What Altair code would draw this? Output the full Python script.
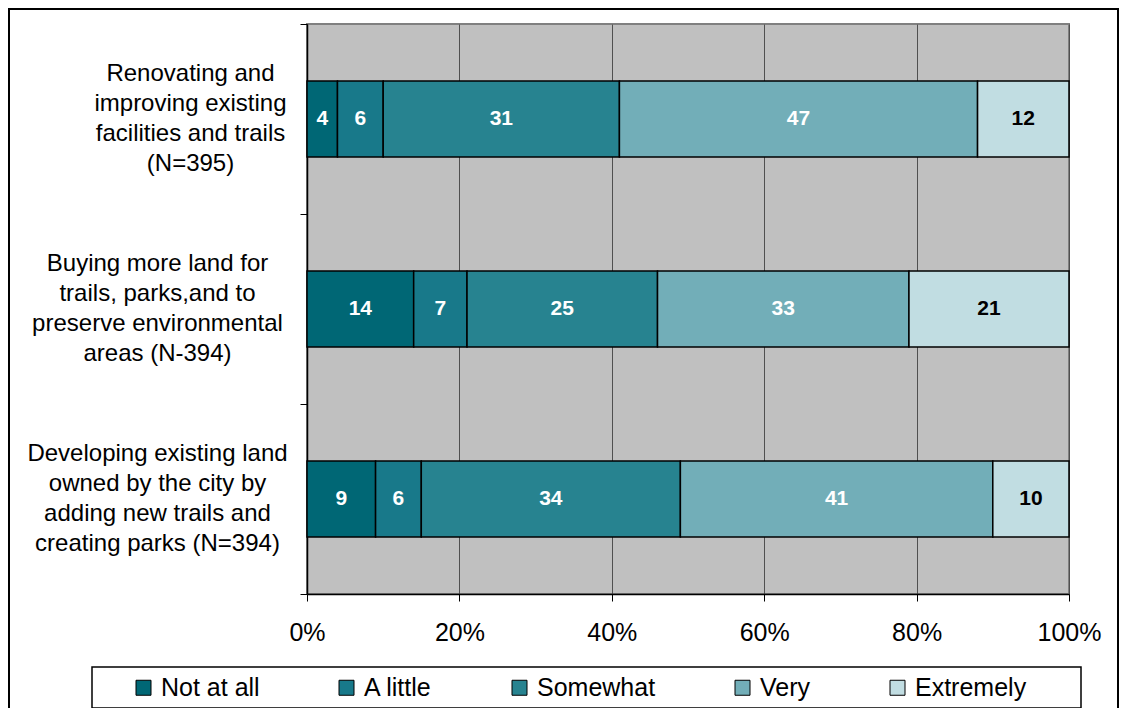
import altair as alt
import pandas as pd

categories = [
    "Renovating and|improving existing|facilities and trails|(N=395)",
    "Buying more land for|trails, parks,and to|preserve environmental|areas (N-394)",
    "Developing existing land|owned by the city by|adding new trails and|creating parks (N=394)",
]
levels = ["Not at all", "A little", "Somewhat", "Very", "Extremely"]
colors = ["#006775", "#18798a", "#278390", "#72aeb8", "#c1dde2"]

renovating = [4, 6, 31, 47, 12]
buying = [14, 7, 25, 33, 21]
developing = [9, 6, 34, 41, 10]
series = [renovating, buying, developing]

rows = []
for cat, vals in zip(categories, series):
    acc = 0
    for lvl, v in zip(levels, vals):
        rows.append({"item": cat, "level": lvl, "value": v,
                     "start": acc, "end": acc + v, "mid": acc + v / 2})
        acc += v
df = pd.DataFrame(rows)

FONT = "Liberation Sans"

x_scale = alt.Scale(domain=[0, 100], nice=False)
y_enc = alt.Y(
    "item:N", sort=categories, title=None,
    scale=alt.Scale(paddingInner=0, paddingOuter=0),
    axis=alt.Axis(
        labelExpr="split(datum.label, '|')",
        labelAlign="center", labelBaseline="middle",
        labelFont=FONT, labelFontSize=24, labelLineHeight=30, labelColor="black",
        labelPadding={"condition": {"test": "datum.value === '" + categories[0] + "'", "value": 110}, "value": 143},
        labelOffset=-46,
        labelLimit=400,
        tickBand="extent", tickSize=7, tickColor="black", tickWidth=1,
        domainColor="black", domainWidth=1.5, grid=False,
    ),
)

bars = alt.Chart(df).mark_bar(size=76, stroke="black", strokeWidth=1.5).encode(
    x=alt.X("start:Q", scale=x_scale, title=None,
            axis=alt.Axis(values=[0, 20, 40, 60, 80, 100], labelExpr="datum.value + '%'",
                          labelFont=FONT, labelFontSize=25, labelColor="black", labelPadding=19,
                          labelFlush=False,
                          tickSize=7, tickColor="black", domainColor="black", domainWidth=1.5,
                          grid=True, gridColor="#505050", gridWidth=1)),
    x2="end:Q",
    y=y_enc,
    color=alt.Color("level:N", sort=levels,
                    scale=alt.Scale(domain=levels, range=colors),
                    legend=alt.Legend(title=None, orient="none", legendX=-176, legendY=651,
                                      direction="horizontal", columns=5, columnPadding=74,
                                      symbolType="square", symbolSize=225,
                                      symbolStrokeColor="black", symbolStrokeWidth=1,
                                      symbolOpacity=1, labelOffset=5,
                                      labelFont=FONT, labelFontSize=25, labelColor="black")),
)

labels = alt.Chart(df).mark_text(font=FONT, fontSize=21, fontWeight="bold", baseline="middle").encode(
    x=alt.X("mid:Q", scale=x_scale),
    y=alt.Y("item:N", sort=categories),
    text=alt.Text("value:Q"),
    color=alt.condition(alt.datum.level == "Extremely", alt.value("black"), alt.value("white")),
)

deco = pd.DataFrame({"a": [0]})
frame = alt.Chart(deco).mark_rect(fillOpacity=0, stroke="black", strokeWidth=2, clip=False).encode(
    x=alt.value(-298), x2=alt.value(811), y=alt.value(-15), y2=alt.value(720))
legend_box = alt.Chart(deco).mark_rect(fillOpacity=0, stroke="black", strokeWidth=1.5, clip=False).encode(
    x=alt.value(-215), x2=alt.value(774), y=alt.value(643), y2=alt.value(684))

chart = alt.layer(bars, labels, frame, legend_box).properties(
    width=762, height=570,
    autosize=alt.AutoSizeParams(type="none"),
    padding={"left": 299, "top": 16, "right": 52, "bottom": 114},
    background="white",
).configure_view(fill="#c0c0c0", stroke="#808080", strokeWidth=2)

chart.save("out.html", embed_options={"renderer": "svg", "actions": False})
